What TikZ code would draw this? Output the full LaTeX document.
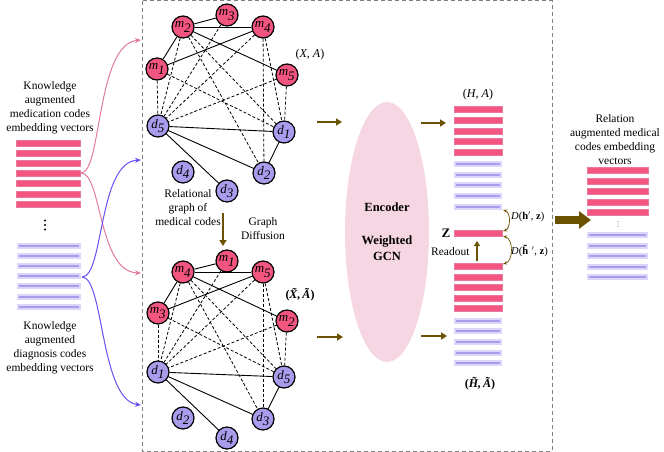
\documentclass[tikz,border=0pt]{standalone}
\usepackage{fontspec}
\setmainfont{Liberation Serif}
\usetikzlibrary{arrows.meta,shapes.geometric}
\definecolor{pinkn}{HTML}{F2557F}
\definecolor{pinkedge}{HTML}{E8789C}
\definecolor{lavn}{HTML}{A89CEC}
\definecolor{lavedge}{HTML}{DCD6FA}
\definecolor{brownc}{HTML}{6B5200}
\definecolor{pinkline}{HTML}{E07A9C}
\definecolor{purpline}{HTML}{6A4FF0}
\definecolor{ellc}{HTML}{F5D6E2}
\definecolor{boxc}{HTML}{808080}
\newcommand\nl[2]{$\textit{#1}_{\textit{#2}}$}
\begin{document}
\begin{tikzpicture}[x=1pt,y=-1pt,
  mnode/.style={circle,draw=black,line width=1.2pt,fill=pinkn,minimum size=22pt,inner sep=0pt,font=\fontsize{13}{13}\selectfont},
  dnode/.style={mnode,fill=lavn},
  sedge/.style={line width=0.9pt},
  dedge/.style={line width=0.8pt,dash pattern=on 3pt off 2pt},
  flow/.style={brownc,line width=2pt,-{Triangle[length=6pt,width=7pt]}},
  txt/.style={align=center,font=\fontsize{11.5}{14}\selectfont},
  pbar/.style={fill=pinkn,draw=pinkedge,line width=0.6pt},
  lbar/.style={fill=lavn,draw=lavedge,line width=1.5pt},
  darr/.style={brownc,line width=0.7pt,{Stealth[length=4pt]}-{Stealth[length=4pt]}},
]
\useasboundingbox (0,0) rectangle (664,452);

% dashed frame
\draw[boxc,line width=1pt,dash pattern=on 4pt off 3pt] (142,1) rectangle (552,451);

% ---------- left stacks ----------
\foreach \y in {143,153,163,173,183,194,204}
  \draw[pbar] (16,\y-2.8) rectangle (80,\y+2.8);
\foreach \y in {246,256,266,276,286,297,307}
  \draw[lbar] (18,\y-2) rectangle (80,\y+2);
\foreach \y in {220.5,225,229.5}
  \fill (45,\y) circle (1.2pt);
\node[txt] (ltxt1) at (50,108) {Knowledge\\augmented\\medication codes\\embedding vectors};
\node[txt] (ltxt2) at (50,348) {Knowledge\\augmented\\diagnosis codes\\embedding vectors};

\coordinate (pm) at (81,173);
\coordinate (lm) at (82,277);
\coordinate (t1) at (141,40);
\coordinate (t2) at (141,273);
\coordinate (t3) at (141,160);
\coordinate (t4) at (141,405);
\draw[pinkline,line width=1pt,-{Stealth[length=6pt,width=5pt]}] (pm) .. controls (102,173) and (96,44) .. (t1);
\draw[pinkline,line width=1pt,-{Stealth[length=6pt,width=5pt]}] (pm) .. controls (102,173) and (98,272) .. (t2);
\draw[purpline,line width=1pt,-{Stealth[length=6pt,width=5pt]}] (lm) .. controls (104,277) and (98,162) .. (t3);
\draw[purpline,line width=1pt,-{Stealth[length=6pt,width=5pt]}] (lm) .. controls (104,277) and (100,400) .. (t4);

% ---------- graph 1 ----------
\node[mnode] (g1A) at (183,27) {\nl{m}{2}};
\node[mnode] (g1B) at (227,15) {\nl{m}{3}};
\node[mnode] (g1C) at (263,27) {\nl{m}{4}};
\node[mnode] (g1D) at (157,69) {\nl{m}{1}};
\node[mnode] (g1E) at (287,75) {\nl{m}{5}};
\node[dnode] (g1F) at (158,126) {\nl{d}{5}};
\node[dnode] (g1G) at (284,132) {\nl{d}{1}};
\node[dnode] (g1H) at (264,173) {\nl{d}{2}};
\node[dnode] (g1I) at (183,172) {\nl{d}{4}};
\node[dnode] (g1J) at (227,191) {\nl{d}{3}};
% ---------- graph 2 ----------
\node[mnode] (g2A) at (183,272) {\nl{m}{4}};
\node[mnode] (g2B) at (227,261) {\nl{m}{1}};
\node[mnode] (g2C) at (263,272) {\nl{m}{5}};
\node[mnode] (g2D) at (158,313) {\nl{m}{3}};
\node[mnode] (g2E) at (287,321) {\nl{m}{2}};
\node[dnode] (g2F) at (158,372) {\nl{d}{1}};
\node[dnode] (g2G) at (284,377) {\nl{d}{5}};
\node[dnode] (g2H) at (263,419) {\nl{d}{3}};
\node[dnode] (g2I) at (183,418) {\nl{d}{2}};
\node[dnode] (g2J) at (227,438) {\nl{d}{4}};

\foreach \g in {g1,g2}{
  \foreach \a/\b in {A/B,A/C,A/D,A/E,D/C,F/G,F/H,F/J,G/H}
    \draw[sedge] (\g\a) -- (\g\b);
  \foreach \a/\b in {A/F,A/G,A/H,D/F,D/G,B/F,C/F,C/H,C/G,E/F,E/G}
    \draw[dedge] (\g\a) -- (\g\b);
}

\node[font=\fontsize{12}{12}\selectfont] (xa) at (310,55) {(\textit{X}, \textit{A})};
\node[font=\fontsize{12}{12}\selectfont\bfseries\itshape] (xta) at (300,295) {\upshape(\itshape\~{X},\,\~{A}\upshape)};

\node[txt] (rel) at (188,208) {Relational\\graph of\\medical codes};
\node[txt] (gd) at (263,229) {Graph\\Diffusion};
\coordinate (da) at (223,213);
\coordinate (db) at (223,246);
\draw[flow] (da) -- (db);

% ---------- encoder ----------
\node[ellipse,fill=ellc,minimum width=84pt,minimum height=260pt,inner sep=0pt] (enc) at (387,232) {};
\node[font=\fontsize{12.5}{15}\selectfont\bfseries] (enct) at (387,207) {Encoder};
\node[font=\fontsize{12.5}{16}\selectfont\bfseries,align=center] (wgcn) at (387,248) {Weighted\\GCN};

\coordinate (a1s) at (317,122); \coordinate (a1e) at (342,122);
\coordinate (a2s) at (317,337); \coordinate (a2e) at (343,337);
\coordinate (a3s) at (421,123); \coordinate (a3e) at (446,123);
\coordinate (a4s) at (421,336); \coordinate (a4e) at (447,336);
\draw[flow] (a1s) -- (a1e);
\draw[flow] (a2s) -- (a2e);
\draw[flow] (a3s) -- (a3e);
\draw[flow] (a4s) -- (a4e);

% ---------- middle stacks ----------
\foreach \y in {109,120,131,141,152,266,277,287,298,308,233}
  \draw[pbar] (454,\y-2.8) rectangle (502,\y+2.8);
\foreach \y in {164,175,185,196,207,321,331,342,353,363}
  \draw[lbar] (455,\y-2) rectangle (501,\y+2);

\node[font=\fontsize{12}{12}\selectfont] (ha) at (478,95) {(\textit{H}, \textit{A})};
\node[font=\fontsize{12}{12}\selectfont\bfseries\itshape] (hta) at (480,384) {\upshape(\itshape\~{H},\,\~{A}\upshape)};
\node[font=\fontsize{13}{13}\selectfont\bfseries] (zl) at (446,233) {Z};
\node[txt,anchor=east] (ro) at (473,252) {Readout};
\coordinate (r1) at (477,261); \coordinate (r2) at (477,241);
\draw[flow,-{Triangle[length=5pt,width=6pt]}] (r1) -- (r2);

\coordinate (c1) at (503,210); \coordinate (c2) at (503,231);
\coordinate (c3) at (503,236); \coordinate (c4) at (503,264);
\draw[darr] (c1) to[bend left=75] (c2);
\draw[darr] (c3) to[bend left=75] (c4);
\node[font=\fontsize{10.5}{10.5}\selectfont,anchor=west,inner sep=1pt] (d1l) at (510,217) {\textit{D}(\textbf{h}$'$, \textbf{z})};
\node[font=\fontsize{10.5}{10.5}\selectfont,anchor=west,inner sep=1pt] (d2l) at (510,251) {\textit{D}(\textbf{\~{h}}$'$, \textbf{z})};

% ---------- output ----------
\coordinate (b1) at (555,220); \coordinate (b2) at (591,220);
\draw[brownc,line width=8pt,-{Triangle[length=12pt,width=17pt]}] (b1) -- (b2);
\foreach \y in {170,181,191,202,212}
  \draw[pbar] (587,\y-2.8) rectangle (648,\y+2.8);
\foreach \y in {235,246,256,267,277}
  \draw[lbar] (588,\y-2) rectangle (647,\y+2);
\foreach \y in {221.5,224,226.5}
  \fill (618,\y) circle (0.45pt);
\node[txt] (rtxt) at (615,140) {Relation\\augmented medical\\codes embedding\\vectors};
\end{tikzpicture}
\end{document}
